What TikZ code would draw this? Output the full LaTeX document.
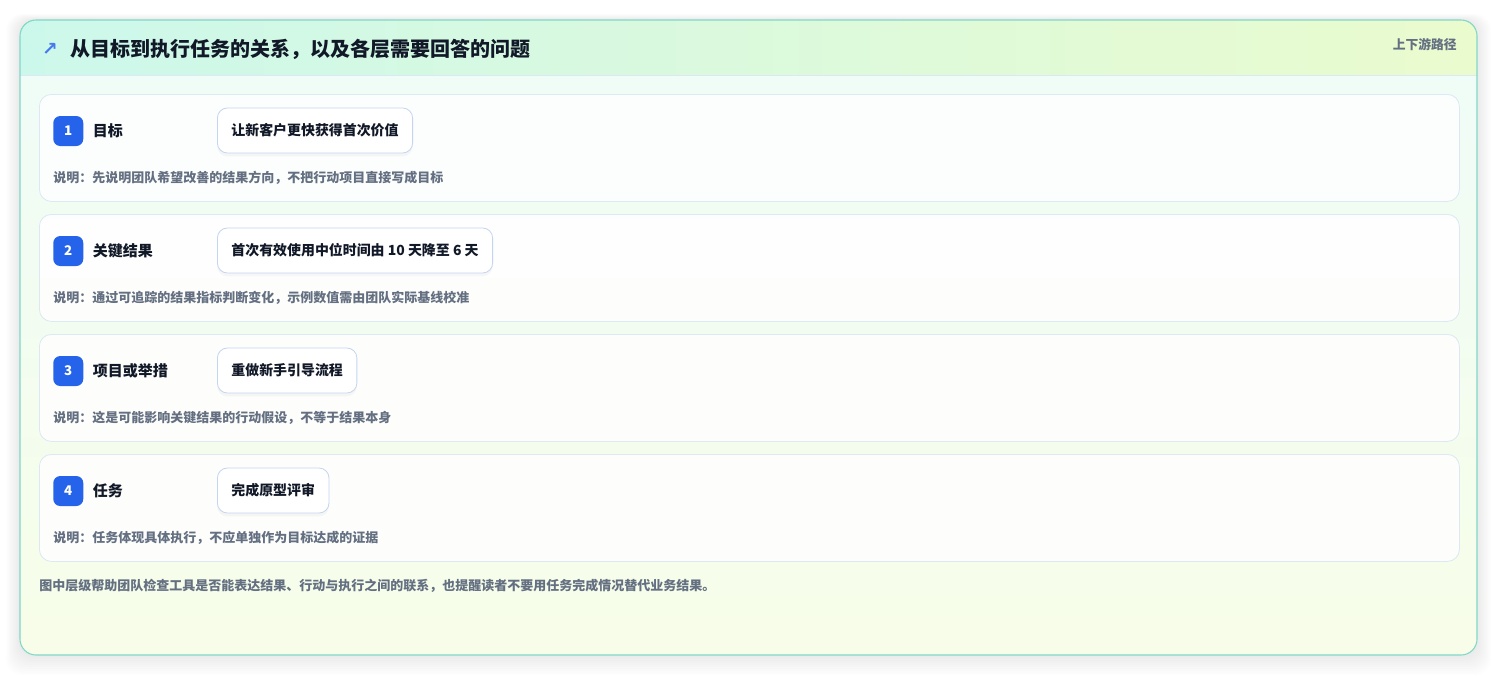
\documentclass[tikz,border=0pt]{standalone}
\usepackage{fontspec}
\setmainfont{Noto Sans CJK SC}
\newfontfamily\symfont{DejaVu Sans}
\usetikzlibrary{positioning}
\usetikzlibrary{shadows}
\definecolor{cardline}{RGB}{128,216,200}
\definecolor{headleft}{RGB}{204,248,235}
\definecolor{headright}{RGB}{234,251,206}
\definecolor{bodytop}{RGB}{239,252,248}
\definecolor{bodybottom}{RGB}{247,253,232}
\definecolor{rowline}{RGB}{220,232,244}
\definecolor{boxline}{RGB}{196,212,242}
\definecolor{badgeblue}{RGB}{37,99,235}
\definecolor{inkdark}{RGB}{17,24,39}
\definecolor{inkgrey}{RGB}{100,112,130}
\def\myrowtop{94}
\def\myrowgap{120}
\tikzset{
>=stealth,
my text/.style={inner sep=0pt,text=inkdark},
card body/.style={rounded corners=12pt,top color=bodytop,bottom color=bodybottom},
card border/.style={draw=cardline,line width=0.8pt,rounded corners=12pt},
head band/.style={left color=headleft,right color=headright},
row box/.style={draw=rowline,line width=0.6pt,fill=white,fill opacity=0.85,
  rounded corners=9pt,minimum width=1065pt,minimum height=80.25pt,inner sep=0pt},
my badge/.style={fill=badgeblue,rounded corners=5.25pt,minimum width=22.5pt,
  minimum height=22.5pt,inner sep=0pt,text=white,font=\bfseries\fontsize{10pt}{11pt}\selectfont},
my label/.style={my text,font=\bfseries\fontsize{11.25pt}{13pt}\selectfont},
my value/.style={draw=boxline,line width=0.6pt,fill=white,rounded corners=7.5pt,
  minimum height=33.75pt,inner xsep=10.5pt,text=inkdark,
  font=\bfseries\fontsize{10.45pt}{12pt}\selectfont,
  drop shadow={opacity=0.06,shadow xshift=0pt,shadow yshift=-2.5pt}},
my note/.style={inner sep=0pt,text=inkgrey,font=\bfseries\fontsize{9.75pt}{12pt}\selectfont},
}
\begin{document}
\begin{tikzpicture}[x=0.75pt,y=-0.75pt]
\useasboundingbox (0,0) rectangle (1498,676);
\foreach \s in {1,...,10}
  \fill[black,opacity=0.007,rounded corners=12pt] (20-1.4*\s,20-0.6*\s) rectangle (1477+1.4*\s,655+2*\s);
\path[card body] (20,20) rectangle (1477,655);
\begin{scope}
\clip[rounded corners=12pt] (20,20) rectangle (1477,655);
\fill[head band] (20,20) rectangle (1477,75);
\end{scope}
\draw[rowline,line width=0.6pt] (20,75) -- (1477,75);
\draw[card border] (20,20) rectangle (1477,655);

\node[my text,text=badgeblue!85!white,font=\symfont\bfseries\fontsize{14pt}{16pt}\selectfont] (icon) at (50,49) {↗};
\node[my text,anchor=west,font=\bfseries\fontsize{15pt}{18pt}\selectfont] (title) at (70,49) {从目标到执行任务的关系，以及各层需要回答的问题};
\node[my text,anchor=east,text=inkgrey,font=\bfseries\fontsize{9.6pt}{11pt}\selectfont] (path) at (1457,45) {上下游路径};

\foreach \lab/\val/\note [count=\i] in {
  目标/让新客户更快获得首次价值/说明：先说明团队希望改善的结果方向，不把行动项目直接写成目标,
  关键结果/首次有效使用中位时间由 10 天降至 6 天/说明：通过可追踪的结果指标判断变化，示例数值需由团队实际基线校准,
  项目或举措/重做新手引导流程/说明：这是可能影响关键结果的行动假设，不等于结果本身,
  任务/完成原型评审/说明：任务体现具体执行，不应单独作为目标达成的证据}
{
  \pgfmathsetmacro\top{\myrowtop+(\i-1)*\myrowgap}
  \node[row box,anchor=north west] (row\i) at (39,\top) {};
  \node[my badge,anchor=west] (num\i) at (53,\top+37) {\i};
  \node[my label,right=6.75pt of num\i] (lab\i) {\lab};
  \node[my value,anchor=west] (val\i) at (217,\top+36.5) {\val};
  \node[my note,anchor=west] (note\i) at (53,\top+84) {\note};
}

\node[my note,anchor=west] (foot) at (39,586) {图中层级帮助团队检查工具是否能表达结果、行动与执行之间的联系，也提醒读者不要用任务完成情况替代业务结果。};
\end{tikzpicture}
\end{document}
